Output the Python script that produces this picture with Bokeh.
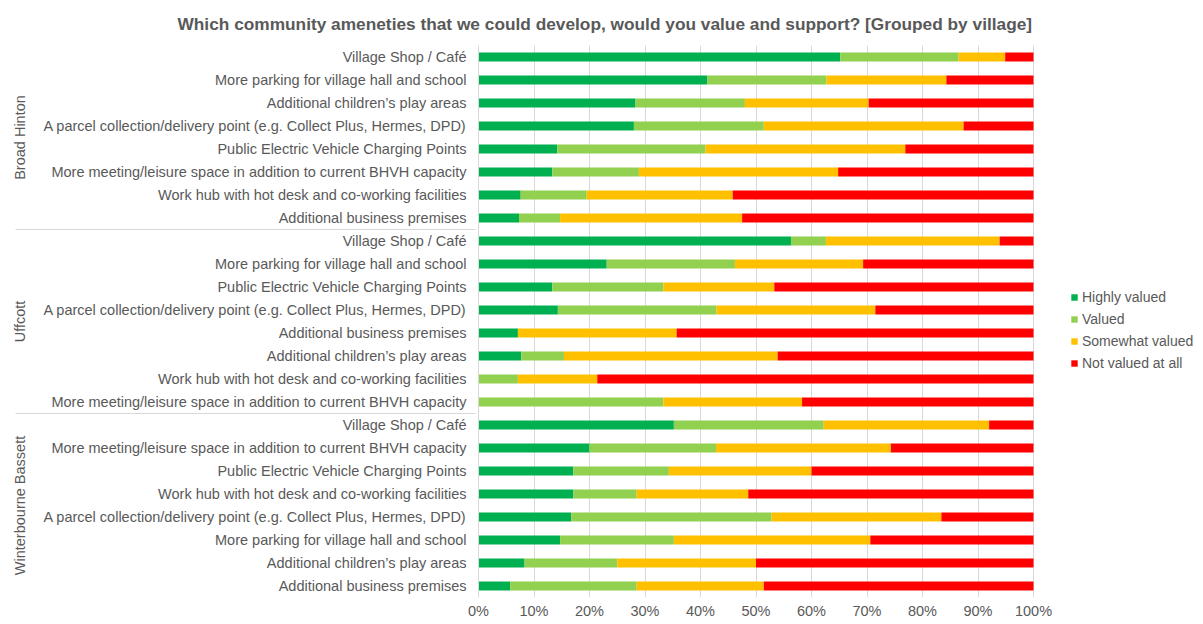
from bokeh.plotting import figure
from bokeh.models import FactorRange, Range1d, ColumnDataSource, Legend, NumeralTickFormatter, FixedTicker
from bokeh.embed import file_html
from bokeh.resources import INLINE

villages = ["Broad Hinton", "Uffcott", "Winterbourne Bassett"]
levels = ["Highly valued", "Valued", "Somewhat valued", "Not valued at all"]
colors = ["#00B050", "#92D050", "#FFC000", "#FF0000"]

# Broad Hinton (top to bottom)
bh_items = ["Village Shop / Café",
            "More parking for village hall and school",
            "Additional children’s play areas",
            "A parcel collection/delivery point (e.g. Collect Plus, Hermes, DPD)",
            "Public Electric Vehicle Charging Points",
            "More meeting/leisure space in addition to current BHVH capacity",
            "Work hub with hot desk and co-working facilities",
            "Additional business premises"]
bh_highly = [65.2, 41.2, 28.3, 28.0, 14.2, 13.3, 7.6, 7.3]
bh_valued = [21.3, 21.5, 19.7, 23.4, 26.7, 15.6, 11.9, 7.4]
bh_somewhat = [8.4, 21.6, 22.3, 36.0, 36.0, 35.9, 26.3, 32.8]
bh_not = [5.1, 15.7, 29.7, 12.6, 23.1, 35.2, 54.2, 52.5]

# Uffcott
uf_items = ["Village Shop / Café",
            "More parking for village hall and school",
            "Public Electric Vehicle Charging Points",
            "A parcel collection/delivery point (e.g. Collect Plus, Hermes, DPD)",
            "Additional business premises",
            "Additional children’s play areas",
            "Work hub with hot desk and co-working facilities",
            "More meeting/leisure space in addition to current BHVH capacity"]
uf_highly = [56.3, 23.1, 13.3, 14.3, 7.1, 7.7, 0.0, 0.0]
uf_valued = [6.3, 23.1, 20.0, 28.6, 0.0, 7.7, 7.1, 33.3]
uf_somewhat = [31.3, 23.1, 20.0, 28.6, 28.6, 38.5, 14.3, 25.0]
uf_not = [6.1, 30.7, 46.7, 28.5, 64.3, 46.1, 78.6, 41.7]

# Winterbourne Bassett
wb_items = ["Village Shop / Café",
            "More meeting/leisure space in addition to current BHVH capacity",
            "Public Electric Vehicle Charging Points",
            "Work hub with hot desk and co-working facilities",
            "A parcel collection/delivery point (e.g. Collect Plus, Hermes, DPD)",
            "More parking for village hall and school",
            "Additional children’s play areas",
            "Additional business premises"]
wb_highly = [35.2, 20.0, 17.1, 17.1, 16.7, 14.7, 8.3, 5.7]
wb_valued = [27.0, 22.8, 17.2, 11.4, 36.1, 20.5, 16.7, 22.8]
wb_somewhat = [29.8, 31.5, 25.7, 20.1, 30.6, 35.4, 25.0, 22.9]
wb_not = [8.0, 25.7, 40.0, 51.4, 16.6, 29.4, 50.0, 48.6]

x_ticks = [0, 0.1, 0.2, 0.3, 0.4, 0.5, 0.6, 0.7, 0.8, 0.9, 1.0]

groups = [(villages[0], bh_items, bh_highly, bh_valued, bh_somewhat, bh_not),
          (villages[1], uf_items, uf_highly, uf_valued, uf_somewhat, uf_not),
          (villages[2], wb_items, wb_highly, wb_valued, wb_somewhat, wb_not)]

factors, hv, va, sv, nv = [], [], [], [], []
for vil, items, a, b, c, d in groups:
    for i, it in enumerate(items):
        tot = a[i] + b[i] + c[i] + d[i]
        factors.append((vil, it))
        hv.append(a[i] / tot)
        va.append(b[i] / tot)
        sv.append(c[i] / tot)
        nv.append(d[i] / tot)

factors_r = factors[::-1]
src = ColumnDataSource(dict(y=factors_r, **{
    levels[0]: hv[::-1], levels[1]: va[::-1], levels[2]: sv[::-1], levels[3]: nv[::-1]}))

FONT = "Liberation Sans"
GREY = "#595959"
LINE = "#d9d9d9"
FS = "14.5px"

# frame spans 0..1 over 555px; extend range to the right to host the legend
X_END = 722 / 555

p = figure(width=1200, height=622, output_backend="svg", toolbar_location=None,
           y_range=FactorRange(factors=factors_r, group_padding=0, range_padding=0),
           x_range=Range1d(0, X_END),
           min_border_left=478, min_border_right=0, min_border_top=45, min_border_bottom=25)

renderers = p.hbar_stack(levels, y="y", height=0.4, color=colors, source=src, line_width=0)

p.title.text = "Which community ameneties that we could develop, would you value and support? [Grouped by village]"
p.title.text_font = FONT
p.title.text_font_size = "17.3px"
p.title.text_color = GREY
p.title.text_font_style = "bold"
p.title.align = "left"
p.title.offset = -301
p.title.standoff = 23

p.outline_line_color = None
p.ygrid.grid_line_color = None
p.xgrid.grid_line_color = LINE
p.xgrid.ticker = FixedTicker(ticks=x_ticks)

p.xaxis.ticker = FixedTicker(ticks=x_ticks)
p.xaxis.formatter = NumeralTickFormatter(format="0%")
p.xaxis.axis_line_color = None
p.xaxis.major_tick_line_color = None
p.xaxis.major_tick_out = 0
p.xaxis.minor_tick_line_color = None
p.xaxis.major_label_text_font = FONT
p.xaxis.major_label_text_font_size = FS
p.xaxis.major_label_text_color = GREY
p.xaxis.major_label_standoff = 5

ya = p.yaxis[0]
ya.axis_line_color = LINE
ya.major_tick_line_color = None
ya.major_tick_out = 0
ya.minor_tick_line_color = None
ya.major_label_standoff = 12
ya.major_label_text_font = FONT
ya.major_label_text_font_size = FS
ya.major_label_text_color = GREY
ya.group_text_font = FONT
ya.group_text_font_size = FS
ya.group_text_color = GREY
ya.group_text_font_style = "normal"
ya.group_label_orientation = "parallel"
ya.separator_line_color = LINE
ya.separator_line_width = 1

legend = Legend(items=[(levels[i], [renderers[i]]) for i in range(4)],
                location=(592, 224))
legend.label_text_font = FONT
legend.label_text_font_size = "14px"
legend.label_text_color = GREY
legend.glyph_width = 8
legend.glyph_height = 8
legend.label_height = 20
legend.spacing = 2
legend.label_standoff = 4
legend.border_line_color = None
legend.background_fill_alpha = 0
legend.margin = 0
legend.padding = 0
p.add_layout(legend, "center")

open("out.html", "w").write(file_html(p, INLINE))
